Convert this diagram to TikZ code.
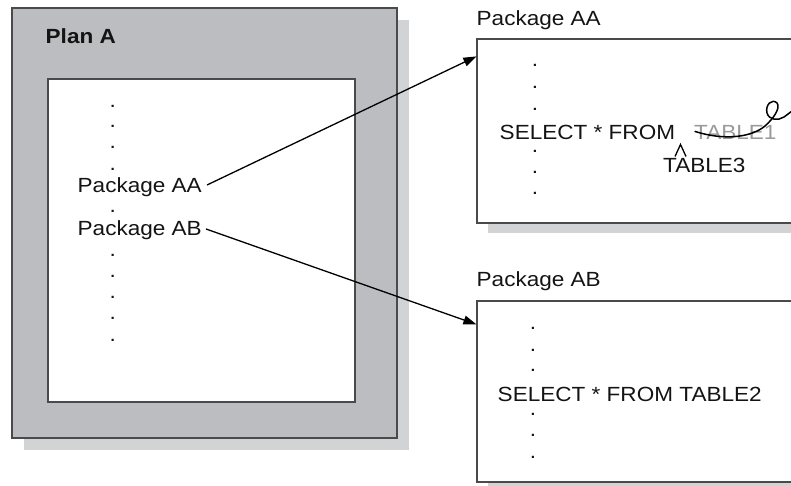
\documentclass[tikz,border=0pt]{standalone}
\usepackage{fontspec}
\setmainfont{Liberation Sans}[FakeStretch=1.1]
\usetikzlibrary{arrows.meta,calc}
\definecolor{plangray}{HTML}{BCBDC1}
\definecolor{shadegray}{HTML}{D2D3D5}
\definecolor{edgegray}{HTML}{4A4A4C}
\definecolor{inkgray}{HTML}{141414}
\definecolor{strikegray}{HTML}{9A9A9A}
\begin{document}
\begin{tikzpicture}[x=1pt,y=-1pt,
  txt/.style={inner sep=0pt, anchor=base west, font=\fontsize{20.5}{24}\selectfont, text=inkgray},
  dotmark/.style={inner sep=0pt, anchor=base, text height=3pt, text depth=0pt, font=\fontsize{20.5}{24}\selectfont, text=inkgray},
  boxframe/.style={draw=edgegray, line width=1.2pt, inner sep=0pt},
  conn/.style={line width=1.3pt, draw=black, -{Triangle[length=13pt,width=9pt]}},
]
\useasboundingbox (0,0) rectangle (791,486);

% Plan A
\fill[shadegray] (24,20) rectangle (409,450);
\node[boxframe, fill=plangray, minimum width=385pt, minimum height=430pt] (plan) at (204.5,223) {};
\node[boxframe, fill=white, minimum width=307pt, minimum height=323pt] (inner) at (201.5,240.5) {};
\node[txt, font=\fontsize{20.5}{24}\selectfont\bfseries] (plantitle) at (45.5,44) {Plan A};

\foreach \yy [count=\i] in {106.7,127,147.7,170,211,255.7,276.7,297,318,340}
  \node[dotmark] (ld\i) at (112.7,\yy+1) {.};
\node[txt] (paa) at (77.5,193) {Package AA};
\node[txt] (pab) at (77.5,235) {Package AB};

% Package AA box
\fill[shadegray] (488,223) rectangle (800,233);
\node[boxframe, fill=white, minimum width=333pt, minimum height=184pt] (boxaa) at (643.5,131) {};
\node[txt] (titleaa) at (476.5,26) {Package AA};
\foreach \yy [count=\i] in {66,88,110,152,173,194}
  \node[dotmark] (ad\i) at (535,\yy+1) {.};
\node[txt] (selaa) at (499.5,139.5) {SELECT * FROM};
\node[txt, text=strikegray] (tab1) at (694,139.5) {TABLE1};
\node[txt] (tab3) at (663,173) {TABLE3};
\draw[line width=1.3pt, black] ($(tab3.north west)+(12,-2)$) coordinate (cl)
  -- ++(5.5,-12) coordinate (ct) -- ++(5.5,12) coordinate (cr);
\draw[line width=1.5pt, black, line cap=round]
  ($(tab1.west)+(1,-1)$) coordinate (ps)
  .. controls (725,141) and (752,137) .. (765,126)
  .. controls (773,119) and (781,108) .. (777,103)
  .. controls (772,98) and (765,105) .. (767,113)
  .. controls (769,120) and (778,121) .. (784,117)
  .. controls (787,115) and (789,113) .. (792,111);

% Package AB box
\fill[shadegray] (488,482) rectangle (800,492);
\node[boxframe, fill=white, minimum width=333pt, minimum height=181pt] (boxab) at (643.5,391.5) {};
\node[txt] (titleab) at (476.5,286) {Package AB};
\foreach \yy [count=\i] in {328,350,370,414,435,457}
  \node[dotmark] (bd\i) at (533,\yy+1) {.};
\node[txt] (selab) at (497.5,401.5) {SELECT * FROM TABLE2};

% connectors
\draw[conn] ($(paa.base east)+(5,-8)$) -- ($(boxaa.north west)+(0,18)$);
\draw[conn] ($(pab.base east)+(4,-6)$) -- ($(boxab.north west)+(0,24)$);
\end{tikzpicture}
\end{document}
